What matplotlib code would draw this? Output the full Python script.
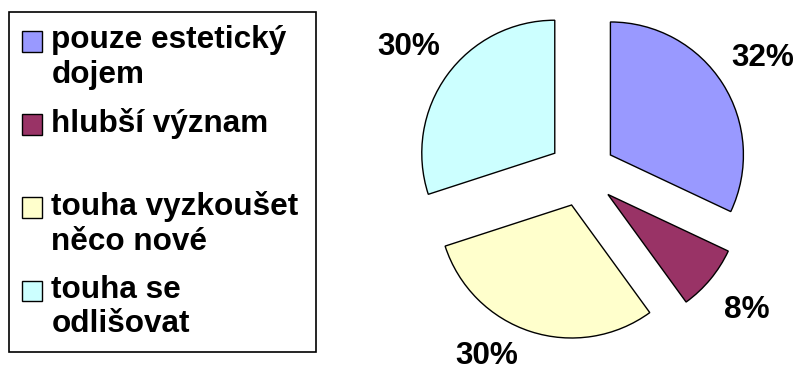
import numpy as np
import matplotlib
matplotlib.use('Agg')
import matplotlib.pyplot as plt
from matplotlib.patches import Patch, Rectangle
from matplotlib.legend_handler import HandlerPatch

# Data
categories = ['pouze estetický\ndojem', 'hlubší význam\n ', 'touha vyzkoušet\nněco nové', 'touha se\nodlišovat']
shares = [32, 8, 30, 30]
colors = ['#9999FF', '#993366', '#FFFFCC', '#CCFFFF']

plt.rcParams['font.family'] = ['Liberation Sans', 'DejaVu Sans']
plt.rcParams['font.weight'] = 'bold'
fs = 22.7

fig = plt.figure(figsize=(8.03, 3.78), dpi=100)

# pie axes: centre at (582, 173) px, radius 133 px
W, H = 803, 378
cx, cy, r = 582, 173, 133
x0 = 380
ax = fig.add_axes([x0 / W, 0, (W - x0) / W, 1])
wedges, texts, autotexts = ax.pie(shares, colors=colors, startangle=90, counterclock=False,
                                  explode=[0.253] * 4, autopct='%1.0f%%', pctdistance=1.36,
                                  wedgeprops=dict(edgecolor='black', linewidth=1.0),
                                  textprops=dict(fontsize=fs, fontweight='bold', color='black'))
ax.set_xlim((x0 - cx) / r, (W - cx) / r)
ax.set_ylim(-(H - cy) / r, cy / r)

# Excel pushed the bottom label to the left so it stays inside the chart
t = autotexts[2]
dist = 0.253 + 1.30
ang = np.deg2rad(-117.5)
t.set_position((dist * np.cos(ang), dist * np.sin(ang)))


# square next to the first line of each (two-line) label
def first_line_square(legend, orig_handle, xdescent, ydescent, width, height, fontsize):
    return Rectangle((-xdescent, -ydescent + 0.52 * fontsize), width, height)


handles = [Patch(facecolor=c, edgecolor='black', linewidth=1.0) for c in colors]
leg = fig.legend(handles, categories, loc='upper left',
                 bbox_to_anchor=(8.5 / W, 0, (316 - 8.5) / W, 1 - 11.7 / H), mode='expand',
                 borderaxespad=0, fontsize=fs, frameon=True, fancybox=False,
                 edgecolor='black', framealpha=1, handlelength=0.64, handleheight=0.64,
                 handletextpad=0.3, labelspacing=0.57, borderpad=0.42,
                 handler_map={Patch: HandlerPatch(patch_func=first_line_square)})
leg.get_frame().set_linewidth(1.2)

fig.savefig('out.png', dpi=100)
